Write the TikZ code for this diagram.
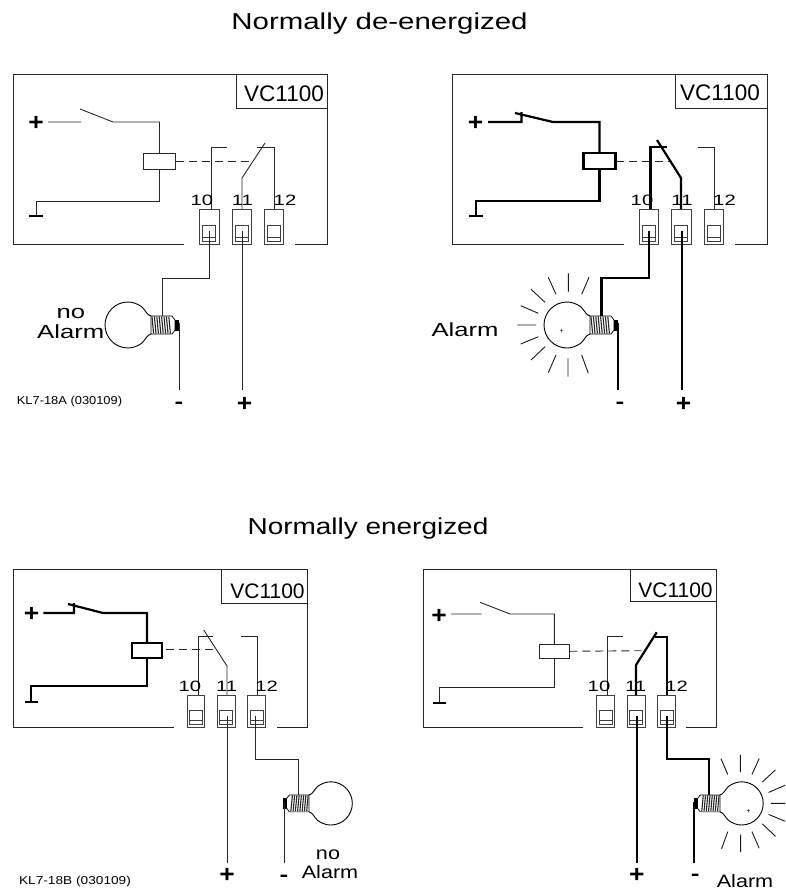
\documentclass[tikz,border=0pt]{standalone}
\usepackage{graphicx}
\usepackage{fontspec}
\setmainfont{Liberation Sans}
\newcommand{\tx}[3]{\scalebox{#1}[1]{\fontsize{#2}{#2}\selectfont #3}}
\newcommand{\plusmark}{\tx{1.1}{24}{\textbf{+}}}
\tikzset{
  wirethin/.style={line width=.9pt,draw=black!85},
  wirethick/.style={line width=2.2pt,draw=black},
  coilbox/.style={rectangle,draw,inner sep=0pt,outer sep=0pt},
  link/.style={line width=.9pt,draw=black!85,dash pattern=on 8pt off 5pt},
  termbox/.style={rectangle,draw=black!75,line width=.8pt,inner sep=0pt,outer sep=0pt,anchor=north},
  lab/.style={inner sep=0pt,outer sep=0pt,text=black},
  bulb/.pic={
    \draw[line width=.9pt,fill=white] (23,-9) .. controls (19,-10) and (18,-14) .. (14,-18)
      .. controls (10,-21) and (5,-23) .. (0,-23)
      .. controls (-12.7,-23) and (-23,-12.7) .. (-23,0)
      .. controls (-23,12.7) and (-12.7,23) .. (0,23)
      .. controls (5,23) and (10,21) .. (14,18)
      .. controls (18,14) and (19,10) .. (23,9);
    \draw[line width=.7pt,fill=white] (23,-9) -- (44,-9) -- (47,-5) -- (47,5) -- (44,9) -- (23,9) -- cycle;
    \foreach \q in {0,2.4,...,18}
      \draw[line width=1.1pt,black!85] (24+\q,-8.5) -- (25.6+\q,8.5);
    \fill[black] (47,-5.5) rectangle (51,6);
    \coordinate (top) at (34.5,-9);
    \coordinate (tip) at (50,-2);
  },
  rays/.pic={
    \draw[line width=.9pt,black!90]
      (1.3,-51.7) -- (1.3,-33.3)
      (22,-47.7) -- (14.7,-30.7)
      (-18.7,-47.7) -- (-11,-30.7)
      (-36,-35.7) -- (-22,-22.7)
      (-46.3,-19.3) -- (-28.7,-11.7)
      (-49.7,0) -- (-31,0)
      (-46.3,19) -- (-28.7,11.7)
      (-36,35) -- (-22,21.7)
      (-18.7,47.7) -- (-11,30)
      (1,33.3) -- (1,51.7)
      (14.7,30) -- (21.3,48.3);
  }
}
% terminal: name, centre x, top y, width, height, inner width, inner top offset, inner height
\newcommand{\Term}[8]{%
  \node[termbox,minimum width=#4pt,minimum height=#5pt] (#1) at (#2,#3) {};
  \node[termbox,minimum width=#6pt,minimum height=#8pt] (#1i) at (#2,#3+#7) {};
  \draw[line width=.8pt,black!75] (#2-#6/2,#3+#7+#8-3.5) -- (#2+#6/2,#3+#7+#8-3.5);
}
\begin{document}
\begin{tikzpicture}[x=1pt,y=-1pt]
\useasboundingbox (0,0) rectangle (785,891);
\clip (0,0) rectangle (785,891);

\node[lab] (title1) at (379.5,24) {\tx{1.28}{23}{Normally de-energized}};
\node[lab] (title2) at (368,529) {\tx{1.215}{23}{Normally energized}};

% ---------- Panel A
\draw[wirethin] (184,244) -- (13,244) -- (13,74) -- (327,74) -- (327,244) -- (295,244);
\draw[wirethin] (236,74) -- (236,108) -- (327,108);
\node[lab] (avc) at (284,94) {\fontsize{22.5}{22.5}\selectfont VC1100};
\node[lab] (aplus) at (36,123) {\plusmark};
\coordinate (as1) at (48,122); \coordinate (as2) at (81,122);
\coordinate (as3) at (80,109); \coordinate (as4) at (113,122);
\node[coilbox,wirethin,minimum width=32pt,minimum height=16pt] (acoil) at (159.5,161) {};
\draw[wirethin] (as1) -- (as2) (as3) -- (as4) -| (acoil.north);
\coordinate (ag) at (36,201); \coordinate (agb) at (36,216);
\draw[wirethin] (acoil.south) |- (ag) -- (agb);
\draw[line width=2pt] (29,216) -- (43,216);
\draw[link] (acoil.east) -- (252,161);
\Term{at10}{209.25}{209}{19.5}{35}{13}{16}{16}
\Term{at11}{241.75}{209}{19.5}{35}{13}{16}{16}
\Term{at12}{274}{209}{19.5}{35}{13}{16}{16}
\coordinate (ac1) at (227,147); \coordinate (ac1b) at (211,147); \coordinate (ac1e) at (211,209);
\draw[wirethin] (ac1) -- (ac1b) -- (ac1e);
\coordinate (ab1) at (265,143); \coordinate (ab2) at (242,178); \coordinate (ab3) at (242,209);
\draw[wirethin] (ab1) -- (ab2) -- (ab3);
\coordinate (ac2) at (257,147); \coordinate (ac2b) at (274,147); \coordinate (ac2e) at (274,209);
\draw[wirethin] (ac2) -- (ac2b) -- (ac2e);
\node[lab] (al10) at (202,200) {\tx{1.35}{15}{10}};
\node[lab] (al11) at (242.3,200) {\tx{1.35}{15}{11}};
\node[lab] (al12) at (285,200) {\tx{1.35}{15}{12}};
\pic (abulb) at (128,325) {bulb};
\coordinate (aw1) at (209,231); \coordinate (aw2) at (209,278);
\draw[wirethin] (aw1) -- (aw2) -| (abulbtop);
\coordinate (aw3) at (242,231); \coordinate (aw4) at (242,390);
\draw[wirethin] (aw3) -- (aw4);
\coordinate (aw5) at (179,390);
\draw[wirethin] (abulbtip -| aw5) -- (aw5);
\node[lab] (aminus) at (179,405) {\tx{1.3}{20}{\textbf{-}}};
\node[lab] (apl2) at (244.5,404) {\plusmark};
\node[lab] (ano) at (71,313) {\tx{1.35}{19}{no}};
\node[lab] (aal) at (70.7,331.7) {\tx{1.35}{19}{Alarm}};
\node[lab] (akl) at (69.5,402) {\tx{1.12}{11.5}{KL7-18A (030109)}};

% ---------- Panel B
\draw[wirethin] (623.5,244) -- (452.5,244) -- (452.5,74) -- (767,74) -- (767,244) -- (735,244);
\draw[wirethin] (675.5,74) -- (675.5,108) -- (767,108);
\node[lab] (bvc) at (720,93) {\fontsize{22.5}{22.5}\selectfont VC1100};
\node[lab] (bplus) at (475.5,123) {\plusmark};
\coordinate (bs1) at (488,122); \coordinate (bs2) at (521.5,122); \coordinate (bs2t) at (521.5,112);
\coordinate (bs3) at (515,113); \coordinate (bs4) at (553,122);
\node[coilbox,wirethick,minimum width=32pt,minimum height=16pt] (bcoil) at (599.5,161) {};
\draw[wirethick] (bs1) -- (bs2) -- (bs2t) (bs3) -- (bs4) -| (bcoil.north);
\coordinate (bg) at (475.7,201); \coordinate (bgb) at (475.7,216);
\draw[wirethick] (bcoil.south) |- (bg) -- (bgb);
\draw[line width=2pt] (469,216) -- (483,216);
\draw[link] (bcoil.east) -- (672,161);
\Term{bt10}{649}{209}{19.5}{35}{13}{16}{16}
\Term{bt11}{681.2}{209}{19.5}{35}{13}{16}{16}
\Term{bt12}{713.7}{209}{19.5}{35}{13}{16}{16}
\coordinate (bc1) at (667,147); \coordinate (bc1b) at (650.5,147); \coordinate (bc1e) at (650.5,209);
\draw[wirethick] (bc1) -- (bc1b) -- (bc1e);
\coordinate (bb1) at (657,140); \coordinate (bb2) at (681,178); \coordinate (bb3) at (681,209);
\draw[wirethick] (bb1) -- (bb2) -- (bb3);
\coordinate (bc2) at (698,147); \coordinate (bc2b) at (714,147); \coordinate (bc2e) at (714,209);
\draw[wirethin] (bc2) -- (bc2b) -- (bc2e);
\node[lab] (bl10) at (642,200) {\tx{1.35}{15}{10}};
\node[lab] (bl11) at (682,200) {\tx{1.35}{15}{11}};
\node[lab] (bl12) at (724.5,200) {\tx{1.35}{15}{12}};
\pic at (567,325) {rays};
\pic (bbulb) at (567,325) {bulb};
\coordinate (bw1) at (649,231); \coordinate (bw2) at (649,278);
\draw[wirethick] (bw1) -- (bw2) -| (bbulbtop);
\coordinate (bw3) at (681.7,231); \coordinate (bw4) at (681.7,390);
\draw[wirethick] (bw3) -- (bw4);
\coordinate (bw5) at (618.3,390);
\draw[wirethick] (bbulbtip -| bw5) -- (bw5);
\node[lab] (bminus) at (620,405) {\tx{1.3}{20}{\textbf{-}}};
\node[lab] (bpl2) at (683.5,404) {\plusmark};
\node[lab] (bal) at (465,329.3) {\tx{1.35}{19}{Alarm}};
\node[lab] (bmark) at (561.7,331) {\fontsize{7}{7}\selectfont +};

% ---------- Panel C
\draw[wirethin] (174,727.5) -- (13.3,727.5) -- (13.3,569) -- (307,569) -- (307,727.5) -- (277,727.5);
\draw[wirethin] (221.7,569) -- (221.7,603.3) -- (307,603.3);
\node[lab] (cvc) at (267.5,591.7) {\fontsize{21}{21}\selectfont VC1100};
\node[lab] (cplus) at (31.7,614) {\plusmark};
\coordinate (cs1) at (43.3,613); \coordinate (cs2) at (74,613); \coordinate (cs2t) at (74,603);
\coordinate (cs3) at (68,604); \coordinate (cs4) at (103,613);
\node[coilbox,wirethick,minimum width=30.6pt,minimum height=15pt] (ccoil) at (147,650.2) {};
\draw[wirethick] (cs1) -- (cs2) -- (cs2t) (cs3) -- (cs4) -| (ccoil.north);
\coordinate (cg) at (31.3,686); \coordinate (cgb) at (31.3,702);
\draw[wirethick] (ccoil.south) |- (cg) -- (cgb);
\draw[line width=2pt] (25,702) -- (38,702);
\draw[link] (166,649.3) -- (214,649.3);
\Term{ct10}{196}{695}{17.5}{32}{13}{15}{14}
\Term{ct11}{226.2}{695}{17.5}{32}{13}{15}{14}
\Term{ct12}{256.5}{695}{17.5}{32}{13}{15}{14}
\coordinate (cc1) at (213,636.7); \coordinate (cc1b) at (198,636.7); \coordinate (cc1e) at (198,695);
\draw[wirethin] (cc1) -- (cc1b) -- (cc1e);
\coordinate (cb1) at (203.7,630); \coordinate (cb2) at (227,666); \coordinate (cb3) at (227,695);
\draw[wirethin] (cb1) -- (cb2) -- (cb3);
\coordinate (cc2) at (241,636.7); \coordinate (cc2b) at (257,636.7); \coordinate (cc2e) at (257,695);
\draw[wirethin] (cc2) -- (cc2b) -- (cc2e);
\node[lab] (cl10) at (190,686) {\tx{1.35}{15}{10}};
\node[lab] (cl11) at (226.7,686) {\tx{1.35}{15}{11}};
\node[lab] (cl12) at (266.7,686) {\tx{1.35}{15}{12}};
\pic[xscale=-.94,yscale=.94] (cbulb) at (330.7,803.4) {bulb};
\coordinate (cw1) at (255.7,716); \coordinate (cw2) at (255.7,759.3);
\draw[wirethin] (cw1) -- (cw2) -| (cbulbtop);
\coordinate (cw3) at (227,716); \coordinate (cw4) at (227,863);
\draw[wirethin] (cw3) -- (cw4);
\coordinate (cw5) at (284,863);
\draw[wirethin] (cbulbtip -| cw5) -- (cw5);
\node[lab] (cminus) at (284,878) {\tx{1.3}{20}{\textbf{-}}};
\node[lab] (cpl2) at (227,875) {\plusmark};
\node[lab] (cno) at (328,855) {\tx{1.2}{18}{no}};
\node[lab] (cal) at (330,871.7) {\tx{1.2}{18}{Alarm}};
\node[lab] (ckl) at (75,882) {\tx{1.19}{11.5}{KL7-18B (030109)}};

% ---------- Panel D
\draw[wirethin] (583.3,727.5) -- (423.3,727.5) -- (423.3,569) -- (716.5,569) -- (716.5,727.5) -- (686,727.5);
\draw[wirethin] (630.7,569) -- (630.7,601.7) -- (716.5,601.7);
\node[lab] (dvc) at (675.5,590) {\fontsize{21}{21}\selectfont VC1100};
\node[lab] (dplus) at (439,616.7) {\plusmark};
\coordinate (ds1) at (451,614); \coordinate (ds2) at (481.7,614);
\coordinate (ds3) at (480,602.3); \coordinate (ds4) at (510,614);
\node[coilbox,wirethin,minimum width=30pt,minimum height=14.7pt] (dcoil) at (554.3,651.3) {};
\draw[wirethin] (ds1) -- (ds2) (ds3) -- (ds4) -| (dcoil.north);
\coordinate (dg) at (439.3,687.7); \coordinate (dgb) at (439.3,702.7);
\draw[wirethin] (dcoil.south) |- (dg) -- (dgb);
\draw[line width=2pt] (433.3,702.7) -- (445.7,702.7);
\draw[link] (dcoil.east) -- (641.7,650.7);
\Term{dt10}{605.8}{695}{18}{32}{13}{15}{14}
\Term{dt11}{636.3}{695}{18}{32}{13}{15}{14}
\Term{dt12}{666.5}{695}{18}{32}{13}{15}{14}
\coordinate (dc1) at (622.7,636.7); \coordinate (dc1b) at (607.7,636.7); \coordinate (dc1e) at (607.7,695);
\draw[wirethin] (dc1) -- (dc1b) -- (dc1e);
\coordinate (db1) at (656.7,632.3); \coordinate (db2) at (636,665); \coordinate (db3) at (636,695);
\draw[wirethick] (db1) -- (db2) -- (db3);
\coordinate (dc2) at (655,636.7); \coordinate (dc2b) at (666.7,636.7); \coordinate (dc2e) at (666.7,695);
\draw[wirethick] (dc2) -- (dc2b) -- (dc2e);
\node[lab] (dl10) at (599,686.7) {\tx{1.35}{15}{10}};
\node[lab] (dl11) at (635.7,686.7) {\tx{1.35}{15}{11}};
\node[lab] (dl12) at (676.7,686.7) {\tx{1.35}{15}{12}};
\pic[xscale=-.94,yscale=.94] at (741.6,803.4) {rays};
\pic[xscale=-.94,yscale=.94] (dbulb) at (741.6,803.4) {bulb};
\coordinate (dw1) at (666.7,716); \coordinate (dw2) at (666.7,759.3);
\draw[wirethick] (dw1) -- (dw2) -| (dbulbtop);
\coordinate (dw3) at (636.7,716); \coordinate (dw4) at (636.7,863);
\draw[wirethick] (dw3) -- (dw4);
\coordinate (dw5) at (694.3,863);
\draw[wirethick] (dbulbtip -| dw5) -- (dw5);
\node[lab] (dminus) at (695.3,877.3) {\tx{1.3}{20}{\textbf{-}}};
\node[lab] (dpl2) at (636.7,875) {\plusmark};
\node[lab] (dal) at (745,880.7) {\tx{1.2}{18}{Alarm}};
\node[lab] (dmark) at (748.3,811) {\fontsize{7}{7}\selectfont +};
\end{tikzpicture}
\end{document}
